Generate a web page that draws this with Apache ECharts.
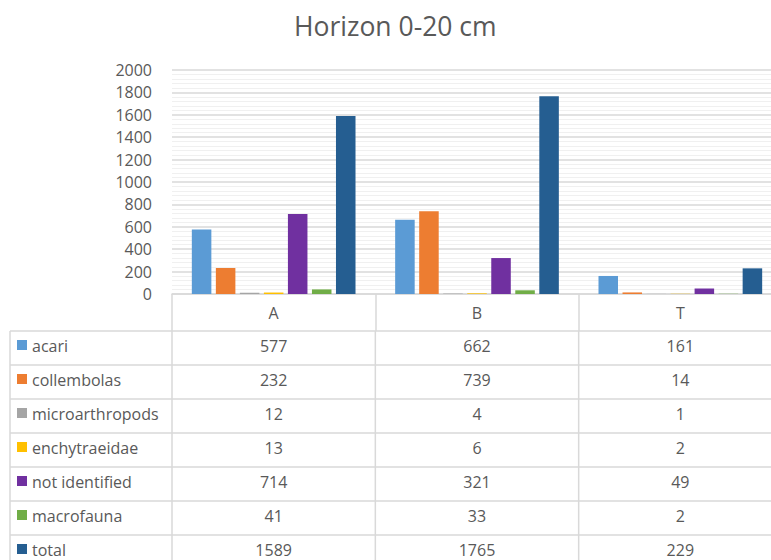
<!DOCTYPE html>
<html><head><meta charset="utf-8">
<script src="https://cdn.jsdelivr.net/npm/echarts@6/dist/echarts.min.js"></script>
<style>html,body{margin:0;padding:0;background:#fff;overflow:hidden;width:771px;height:560px}#c{width:782px;height:560px}</style>
</head><body><div id="c"></div>
<script>
const categories = ['A', 'B', 'T'];
const seriesNames = ['acari', 'collembolas', 'microarthropods', 'enchytraeidae', 'not identified', 'macrofauna', 'total'];
const acari = [577, 662, 161];
const collembolas = [232, 739, 14];
const microarthropods = [12, 4, 1];
const enchytraeidae = [13, 6, 2];
const notIdentified = [714, 321, 49];
const macrofauna = [41, 33, 2];
const total = [1589, 1765, 229];
const yMin = 0, yMax = 2000, yStep = 200;

const seriesValues = [acari, collembolas, microarthropods, enchytraeidae, notIdentified, macrofauna, total];
const colors = ['#5B9BD5', '#ED7D31', '#A5A5A5', '#FFC000', '#7030A0', '#70AD47', '#255E91'];
const FONT = "'Open Sans', 'Liberation Sans', sans-serif";
const TXT = '#595959';
const LINE = '#D9D9D9';

const chart = echarts.init(document.getElementById('c'), null, {renderer: 'svg'});
const option = {
  animation: false,
  color: colors,
  title: {
    text: 'Horizon 0-20 cm', left: 289, top: 7,
    textStyle: {fontFamily: FONT, fontSize: 26.5, fontWeight: 'normal', color: TXT}
  },
  grid: {left: 172, right: 0, top: 70, height: 224, containLabel: false},
  xAxis: {
    type: 'category', data: categories,
    axisLine: {lineStyle: {color: LINE, width: 1.5}},
    axisTick: {show: true, length: 37, lineStyle: {color: LINE, width: 1.5}},
    axisLabel: {color: TXT, fontFamily: FONT, fontSize: 16, margin: 11}
  },
  yAxis: {
    type: 'value', min: yMin, max: yMax, interval: yStep,
    axisLabel: {color: TXT, fontFamily: FONT, fontSize: 16, margin: 20, formatter: v => String(v)},
    axisLine: {show: false}, axisTick: {show: false},
    splitLine: {lineStyle: {color: LINE, width: 1.5}},
    minorTick: {show: false, splitNumber: 5},
    minorSplitLine: {show: true, lineStyle: {color: '#F0F0F0', width: 1}}
  },
  series: seriesNames.map((n, i) => ({
    name: n, type: 'bar', data: seriesValues[i],
    barCategoryGap: '19.5%', barGap: '23%',
    itemStyle: {color: colors[i]}
  }))
};
chart.setOption(option);

// data table below the axis
const baseY = chart.convertToPixel({yAxisIndex: 0}, 0);
const colX = categories.map(c => chart.convertToPixel({xAxisIndex: 0}, c));
const half = (colX[1] - colX[0]) / 2;
const headerH = 37, rowH = 34, tableLeft = 10, tableRight = 782;
const top0 = baseY + headerH;
const els = [];
const nRows = seriesNames.length;
const bottom = top0 + nRows * rowH;
for (let i = 0; i <= nRows; i++) {
  const y = top0 + i * rowH;
  els.push({type: 'line', shape: {x1: tableLeft, y1: y, x2: tableRight, y2: y}, style: {stroke: LINE, lineWidth: 1.5}, silent: true});
}
const vxs = [tableLeft, colX[0] - half, colX[1] - half, colX[2] - half];
vxs.forEach(x => els.push({type: 'line', shape: {x1: x, y1: top0, x2: x, y2: bottom}, style: {stroke: LINE, lineWidth: 1.5}, silent: true}));
seriesNames.forEach((n, i) => {
  const cy = top0 + i * rowH + rowH / 2 - 1;
  els.push({type: 'rect', shape: {x: 17, y: cy - 7, width: 10, height: 10}, style: {fill: colors[i]}, silent: true});
  els.push({type: 'text', style: {text: n, x: 32, y: cy - 1, textAlign: 'left', textVerticalAlign: 'middle', fill: TXT, fontSize: 16, fontFamily: FONT}, silent: true});
  seriesValues[i].forEach((v, j) => {
    els.push({type: 'text', style: {text: String(v), x: colX[j], y: cy - 1, textAlign: 'center', textVerticalAlign: 'middle', fill: TXT, fontSize: 16, fontFamily: FONT}, silent: true});
  });
});
chart.setOption({graphic: {elements: els}});
</script></body></html>
